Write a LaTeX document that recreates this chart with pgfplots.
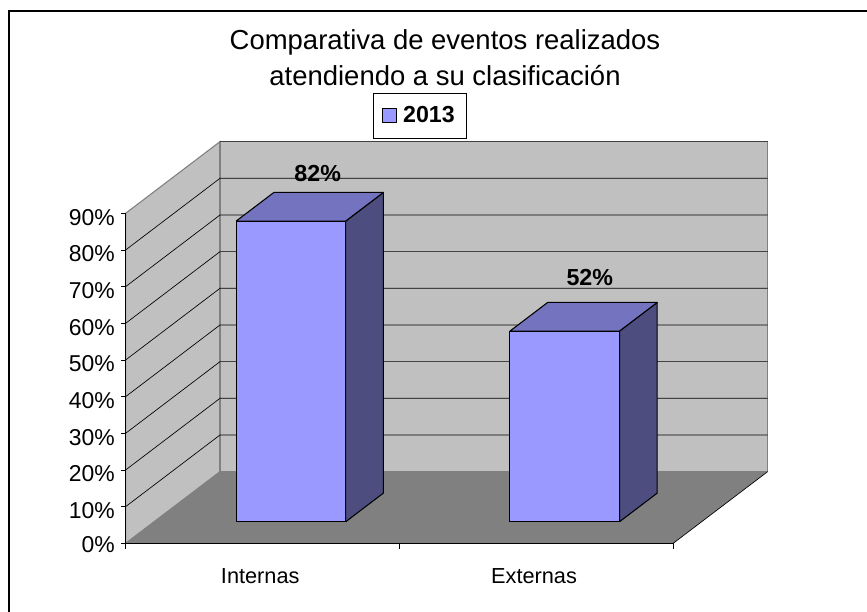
\documentclass[border=0pt]{standalone}
\usepackage{fontspec}
\setmainfont{Liberation Sans}
\usepackage{pgfplots}
\pgfplotsset{compat=1.18}
\definecolor{wall}{HTML}{C0C0C0}
\definecolor{flr}{HTML}{808080}
\definecolor{barf}{HTML}{9999FF}
\definecolor{bart}{HTML}{7373BF}
\definecolor{bars}{HTML}{4D4D80}
\begin{document}
\begin{tikzpicture}
\begin{axis}[
  x={(205.35pt,0pt)}, y={(70.73pt,53.7pt)}, z={(0pt,2.75pt)},
  xmin=0,xmax=2,ymin=0,ymax=1,zmin=0,zmax=90,
  axis x line*=bottom, axis z line*=left, axis y line=none,
  axis on top=true, clip=false,
  axis line style={black,line width=0.6pt,-},
  ytick=\empty,
  xtick={0.5,1.5}, xticklabels={Internas,Externas},
  ztick={0,10,...,90},
  zticklabel={\pgfmathprintnumber{\tick}\%},
  /pgf/number format/assume math mode=true,
  tick label style={font=\fontsize{17.2}{20}\selectfont,black},
  major tick length=4pt,
  tick align=outside,
  x tick style={draw=none},
  z tick style={draw=none},
  x tick label style={font=\fontsize{16.3}{18}\selectfont,black,xshift=6pt,yshift=-13pt},
  z tick label style={xshift=-1.5pt,yshift=6.5pt},
  title={Comparativa de eventos realizados\\atendiendo a su clasificación},
  title style={at={(axis cs:1.1662,0,130.3)},anchor=center,align=center,
    font=\fontsize{20.6}{27}\selectfont},
  legend style={at={(axis cs:1.0743,0,116.66)},anchor=center,draw=black,line width=0.4pt,
    font=\fontsize{17.4}{20}\selectfont\bfseries,inner xsep=7pt,inner ysep=8pt},
  legend image code/.code={\draw[fill=barf,draw=black,line width=0.6pt] (0pt,-5pt) rectangle (10.5pt,5pt);},
]
\coordinate (BL) at (axis cs:-0.4591,0,-18.73);
\coordinate (TR) at (axis cs:2.7074,0,148.16);
\fill[white] (BL) rectangle (TR);
\draw[black,line width=1pt] (axis cs:-0.4262,0,-18.73) -- (axis cs:-0.4262,0,145.16) -- (axis cs:2.7074,0,145.16);
% walls and floor
\addplot3[forget plot,fill=wall,draw=flr,line width=0.8pt] coordinates {(0,0,0)(0,1,0)(0,1,90)(0,0,90)(0,0,0)};
\addplot3[forget plot,fill=wall,draw=flr,line width=0.8pt] coordinates {(0,1,0)(2,1,0)(2,1,90)(0,1,90)(0,1,0)};
\addplot3[forget plot,fill=flr,draw=none] coordinates {(0,0,0)(2,0,0)(2,1,0)(0,1,0)(0,0,0)};
\addplot3[forget plot,draw=black,line width=0.5pt] coordinates {(2,0,0)(2,1,0)};
\pgfplotsinvokeforeach{10,20,30,40,50,60,70,80}{
  \addplot3[forget plot,draw=black,line width=0.5pt] coordinates {(0,0,#1)(0,1,#1)(2,1,#1)};
}
\addplot3[forget plot,draw=black!75,line width=0.6pt] coordinates {(0,1,90)(2,1,90)};
% tick marks, horizontal and vertical as on the flat chart
\pgfplotsinvokeforeach{0,10,20,30,40,50,60,70,80,90}{
  \addplot3[forget plot,draw=black,line width=0.5pt] coordinates {(-0.0164,0,#1)(0,0,#1)};
}
\pgfplotsinvokeforeach{0,1,2}{
  \addplot3[forget plot,draw=black,line width=0.5pt] coordinates {(#1,0,0)(#1,0,-1.64)};
}
% bars
\addplot3[forget plot,fill=bars,draw=black,line width=0.8pt,line join=round] coordinates {(0.7,0.3,0)(0.7,0.7,0)(0.7,0.7,82)(0.7,0.3,82)(0.7,0.3,0)};
\addplot3[forget plot,fill=bart,draw=black,line width=0.8pt,line join=round] coordinates {(0.3,0.3,82)(0.7,0.3,82)(0.7,0.7,82)(0.3,0.7,82)(0.3,0.3,82)};
\addplot3[fill=barf,draw=black,line width=0.8pt,line join=round] coordinates {(0.3,0.3,0)(0.7,0.3,0)(0.7,0.3,82)(0.3,0.3,82)(0.3,0.3,0)};
\addlegendentry{\hspace{2.5pt}2013}
\addplot3[forget plot,fill=bars,draw=black,line width=0.8pt,line join=round] coordinates {(1.7,0.3,0)(1.7,0.7,0)(1.7,0.7,52)(1.7,0.3,52)(1.7,0.3,0)};
\addplot3[forget plot,fill=bart,draw=black,line width=0.8pt,line join=round] coordinates {(1.3,0.3,52)(1.7,0.3,52)(1.7,0.7,52)(1.3,0.7,52)(1.3,0.3,52)};
\addplot3[forget plot,fill=barf,draw=black,line width=0.8pt,line join=round] coordinates {(1.3,0.3,0)(1.7,0.3,0)(1.7,0.3,52)(1.3,0.3,52)(1.3,0.3,0)};
% data labels: centre of text at pixel positions
\node[font=\fontsize{17.4}{20}\selectfont\bfseries,anchor=center] at (axis cs:0.7012,0,100.9) {82\%};
\node[font=\fontsize{17.4}{20}\selectfont\bfseries,anchor=center] at (axis cs:1.6948,0,72.4) {52\%};
\end{axis}
\pgfresetboundingbox
\path[use as bounding box] (BL) rectangle (TR);
\end{tikzpicture}
\end{document}
